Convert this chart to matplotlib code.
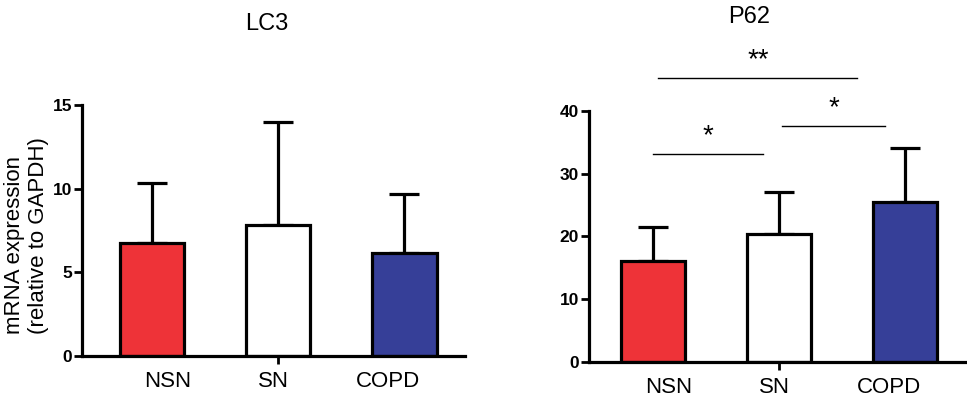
import matplotlib.pyplot as plt
import numpy as np

plt.rcParams['font.family'] = ['Liberation Sans', 'DejaVu Sans']

groups = ['NSN', 'SN', 'COPD']
colors = ['#EE3338', '#FFFFFF', '#363F98']

lc3_mean = [6.77, 7.83, 6.14]
lc3_err = [3.55, 6.17, 3.54]

p62_mean = [16.1, 20.3, 25.4]
p62_err = [5.4, 6.8, 8.6]

# significance brackets: (from, to, height, label)
p62_sig = [(0, 0.87, 33.1, '*'), (1.02, 1.84, 37.6, '*'), (0.04, 1.62, 45.2, '**')]

x = np.arange(len(groups))
label_pos = [0.12, 0.96, 1.87]

fig = plt.figure(figsize=(9.67, 4.01), dpi=100)
ax1 = fig.add_axes([0.0848, 0.1122, 0.396, 0.626])
ax2 = fig.add_axes([0.609, 0.0973, 0.391, 0.6267])


def draw_panel(ax, mean, err, ymax, step):
    ax.bar(x, mean, width=0.51, color=colors, edgecolor='black', linewidth=2.3, zorder=2)
    ax.errorbar(x, mean, yerr=[[0] * 3, err], fmt='none', ecolor='black',
                elinewidth=2.3, capsize=11, capthick=2.3, zorder=1)
    ax.set_ylim(0, ymax)
    ax.set_yticks(np.arange(0, ymax + 1, step))
    for s in ['top', 'right']:
        ax.spines[s].set_visible(False)
    for s in ['left', 'bottom']:
        ax.spines[s].set_linewidth(2.3)
    ax.set_xticks(label_pos)
    ax.set_xticklabels(groups, fontsize=16)
    ax.tick_params(axis='x', length=0, pad=11)
    ax.set_xticks([1], minor=True)
    ax.tick_params(axis='x', which='minor', length=6, width=2)
    ax.tick_params(axis='y', length=6, width=2, labelsize=12.5, pad=1)
    for lab in ax.get_yticklabels():
        lab.set_fontweight('bold')


draw_panel(ax1, lc3_mean, lc3_err, 15, 5)
ax1.set_xlim(-0.556, 2.48)
ax1.set_ylabel('mRNA expression\n(relative to GAPDH)', fontsize=16,
               multialignment='left', va='center')
ax1.yaxis.set_label_coords(-0.145, 0.48)
fig.text(267 / 967, 1 - 24 / 401, 'LC3', fontsize=17, ha='center', va='center')

draw_panel(ax2, p62_mean, p62_err, 40, 10)
ax2.set_xlim(-0.51, 2.49)
fig.text(749 / 967, 1 - 17 / 401, 'P62', fontsize=17, ha='center', va='center')

for x0, x1, h, lab in p62_sig:
    ax2.plot([x0, x1], [h, h], color='black', linewidth=1, clip_on=False)
    ax2.text((x0 + x1) / 2, h + 0.8, lab, ha='center', va='bottom', fontsize=20,
             clip_on=False)

fig.savefig('out.png', dpi=100)
